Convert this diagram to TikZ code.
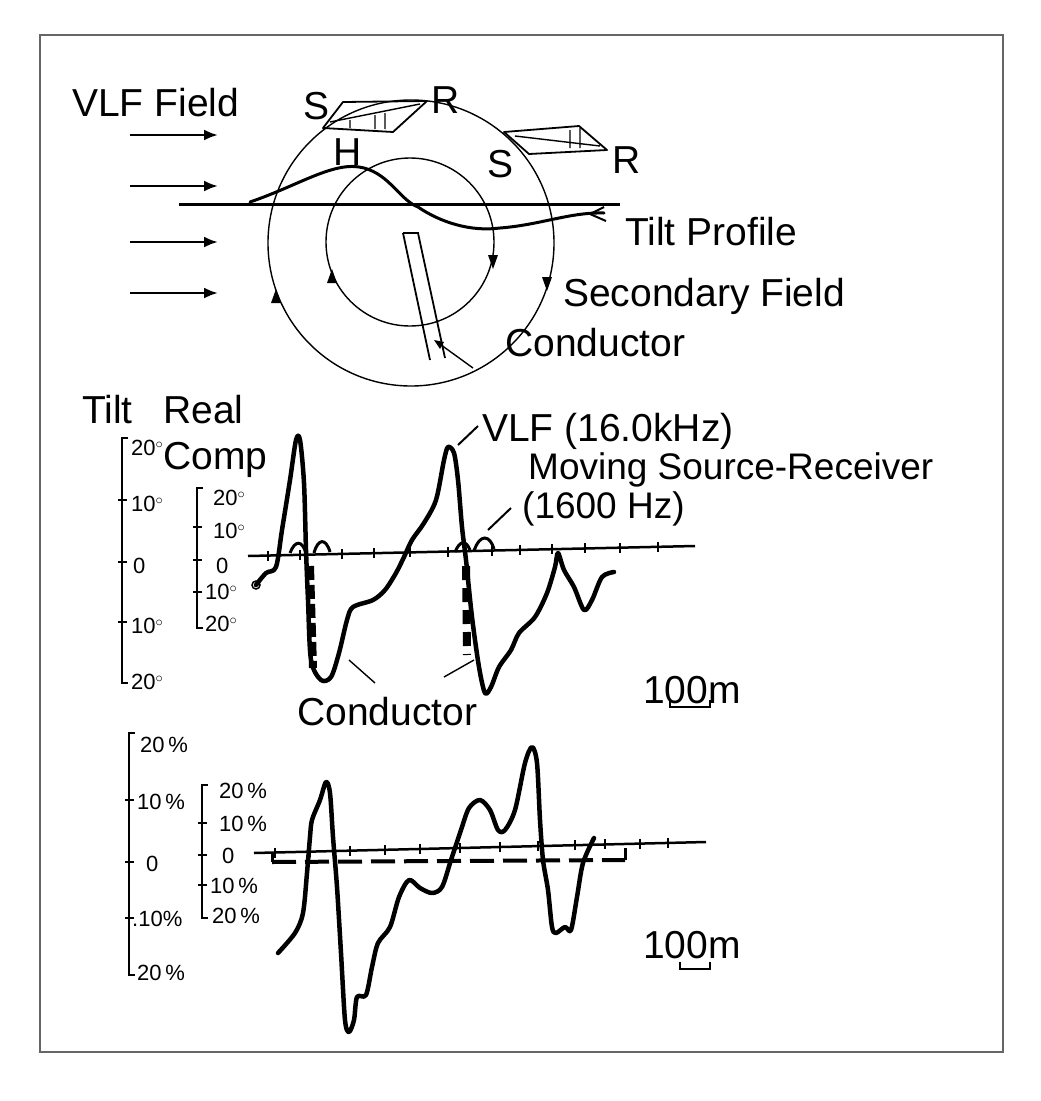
\documentclass[tikz,border=0pt]{standalone}
\usepackage{fontspec}
\setmainfont{Liberation Sans}
\usetikzlibrary{arrows.meta}
\begin{document}
\begin{tikzpicture}[x=1pt,y=-1pt,
  big/.style={font=\fontsize{39}{41}\selectfont,inner sep=0pt,anchor=west},
  ax/.style={font=\fontsize{22}{24}\selectfont,inner sep=0pt,anchor=west},
  curve/.style={line width=4.5pt,line join=round,line cap=round},
  thin/.style={line width=1.4pt},
  tri/.style={fill=black}]
\useasboundingbox (0,0) rectangle (1041,1101);
\fill[white] (0,0) rectangle (1041,1101);
\draw[line width=1.5pt,gray!80!black] (40,35) rectangle (1003,1052);
% ---------- top part ----------
\node[big] (vlf) at (72,103) {VLF Field};
\foreach \yy in {135,186,242,293}
  \draw[line width=2.5pt,-{Latex[length=14pt,width=11pt]}] (130,\yy) -- (218,\yy);
\draw[thin] (411,243) circle (143);
\draw[thin] (410,242) circle (84);
\draw[line width=3pt] (179,204) -- (620,204);
\draw[line width=3pt,line cap=round] (250,202) .. controls (300,185) and (335,160) .. (364,168)
  .. controls (390,175) and (400,200) .. (418,207)
  .. controls (440,222) and (470,232) .. (500,228)
  .. controls (540,225) and (570,212) .. (604,213);
\draw[line width=2pt] (590,214) -- (604,207) (590,214) -- (606,221);
% arrowheads on circles
\fill[tri,shift={(332,278)}] (0,-9) -- (5,5) -- (-5,5) -- cycle;
\fill[tri,shift={(276,298)}] (0,-9) -- (5,5) -- (-5,5) -- cycle;
\fill[tri,shift={(493,260)}] (0,9) -- (5,-5) -- (-5,-5) -- cycle;
\fill[tri,shift={(547,282)}] (0,9) -- (5,-5) -- (-5,-5) -- cycle;
% conductor
\draw[line width=1.8pt] (403,233) -- (418,233) -- (445,358) (403,233) -- (430,360);
\draw[thin] (437,342) -- (473,368);
\fill[tri] (434,340) -- (444,342) -- (440,349) -- cycle;
% planes
\draw[line width=1.8pt,line join=round] (323,128) -- (343,102) -- (427,101) -- (393,132) -- cycle;
\draw[thin] (330,122) -- (420,104) (350,128) -- (350,120) (375,129) -- (375,115) (385,129) -- (385,113);
\draw[line width=1.8pt,line join=round] (504,132) -- (579,126) -- (607,150) -- (529,154) -- cycle;
\draw[thin] (515,136) -- (600,146) (570,148) -- (570,130) (580,148) -- (580,128);
\node[big] (s1) at (303,106) {S};
\node[big] (r1) at (431,100) {R};
\node[big] (h) at (333,152) {H};
\node[big] (s2) at (487,164) {S};
\node[big] (r2) at (612,160) {R};
\node[big] (tp) at (625,232) {Tilt Profile};
\node[big] (sf) at (563,296) {Secondary Field};
\node[big] (cd) at (505,343) {Conductor};
% ---------- middle plot ----------
\node[big] (tilt) at (82,410) {Tilt};
\node[big] (real) at (163,410) {Real};
\node[big] (comp) at (163,460) {Comp};
\draw[line width=2.5pt] (128,438) -- (122,438) -- (122,683) -- (128,683);
\foreach \yy in {500,562,622} \draw[line width=2.5pt] (118,\yy) -- (127,\yy);
\node[ax] (a1) at (131,448) {20$^{\circ}$};
\node[ax] (a2) at (131,504) {10$^{\circ}$};
\node[ax] (a3) at (133,566) {0};
\node[ax] (a4) at (131,626) {10$^{\circ}$};
\node[ax] (a5) at (131,682) {20$^{\circ}$};
\draw[line width=2.5pt] (203,488) -- (197,488) -- (197,628) -- (203,628);
\foreach \yy in {527,560,592} \draw[line width=2.5pt] (193,\yy) -- (202,\yy);
\node[ax] (b1) at (213,498) {20$^{\circ}$};
\node[ax] (b2) at (213,531) {10$^{\circ}$};
\node[ax] (b3) at (216,566) {0};
\node[ax] (b4) at (205,592) {10$^{\circ}$};
\node[ax] (b5) at (205,624) {20$^{\circ}$};
\draw[line width=2.5pt] (248,556) -- (695,546);
\foreach \xx in {268,300,342,374,410,448,492,520,552,585,620,658}
  \draw[line width=2.5pt] (\xx,{556-(\xx-248)*10/447-5}) -- (\xx,{556-(\xx-248)*10/447+5});
\draw[curve] plot[smooth,tension=0.5] coordinates {(256,585) (266,573) (276,567) (282,530) (290,480) (296,440) (300,440) (304,483) (306,550) (308,600) (311,660) (321,680) (331,677) (339,653) (347,620) (353,607) (373,600) (385,590) (396,573) (404,557) (412,540) (424,523) (436,500) (444,460) (448,447) (454,453) (458,480) (462,527) (466,560) (472,617) (479,667) (485,693) (491,687) (499,667) (511,650) (519,633) (535,617) (547,593) (555,567) (558,553) (564,570) (574,587) (584,610) (592,600) (602,577) (614,572)};
\draw[line width=1.5pt] (256,585) circle (4);
\draw[line width=8pt,dash pattern=on 14pt off 5pt] (310,566) -- (313,668);
\draw[line width=8pt,dash pattern=on 14pt off 8pt] (466,566) -- (467,655);
\draw[line width=3pt] (290,553) .. controls (295,540) and (302,540) .. (306,553);
\draw[line width=3pt] (314,553) .. controls (318,538) and (326,538) .. (330,552);
\draw[line width=3pt] (455,552) .. controls (460,540) and (466,540) .. (470,550);
\draw[line width=3pt] (474,551) .. controls (480,533) and (490,535) .. (494,549);
\node[big] (vlfk) at (482,431) {VLF (16.0kHz)};
\node[big,font=\fontsize{37}{38}\selectfont] (msr) at (528,470) {Moving Source-Receiver};
\node[big,font=\fontsize{37}{38}\selectfont] (hz) at (522,509) {(1600 Hz)};
\draw[line width=2pt] (458,445) -- (478,426);
\draw[line width=2pt] (488,530) -- (511,508);
\node[big] (cd2) at (297,712) {Conductor};
\draw[thin] (349,660) -- (375,683);
\draw[thin] (474,660) -- (444,677);
\node[big] (hm1) at (643,690) {100m};
\draw[line width=2pt] (670,700) -- (670,707) -- (710,707) -- (710,700);
% ---------- bottom plot ----------
\draw[line width=2.5pt] (135,733) -- (129,733) -- (129,975) -- (135,975);
\foreach \yy in {800,862,918} \draw[line width=2.5pt] (125,\yy) -- (134,\yy);
\node[ax] (c1) at (140,745) {20\,\%};
\node[ax] (c2) at (137,802) {10\,\%};
\node[ax] (c3) at (146,864) {0};
\node[ax] (c4) at (132,919) {.10\%};
\node[ax] (c5) at (137,973) {20\,\%};
\draw[line width=2.5pt] (208,785) -- (202,785) -- (202,918) -- (208,918);
\foreach \yy in {823,855,885} \draw[line width=2.5pt] (198,\yy) -- (207,\yy);
\node[ax] (d1) at (219,791) {20\,\%};
\node[ax] (d2) at (219,824) {10\,\%};
\node[ax] (d3) at (222,856) {0};
\node[ax] (d4) at (210,886) {10\,\%};
\node[ax] (d5) at (212,916) {20\,\%};
\draw[line width=2.5pt] (254,853) -- (706,842);
\foreach \xx in {275,310,350,385,420,460,500,538,575,605,640,668}
  \draw[line width=2.5pt] (\xx,{853-(\xx-254)*11/452-5}) -- (\xx,{853-(\xx-254)*11/452+5});
\draw[line width=4pt,dash pattern=on 24pt off 9pt] (272,862) -- (625,860);
\draw[line width=3pt] (272,852) -- (272,862) (625,848) -- (625,860);
\draw[curve] plot[smooth,tension=0.5] coordinates {(278,953) (295,933) (303,913) (307,873) (310,837) (312,820) (320,800) (326,782) (330,793) (333,837) (337,887) (341,953) (345,1020) (349,1032) (354,1020) (357,997) (366,995) (372,967) (378,943) (390,927) (399,897) (409,880) (420,888) (432,893) (442,887) (451,860) (461,830) (469,808) (480,800) (490,810) (498,830) (505,830) (515,810) (525,763) (532,747) (537,763) (540,820) (543,860) (548,890) (552,927) (556,933) (565,927) (571,930) (577,897) (583,863) (594,838)};
\node[big] (hm2) at (643,945) {100m};
\draw[line width=2pt] (680,962) -- (680,969) -- (710,969) -- (710,962);
\end{tikzpicture}
\end{document}
